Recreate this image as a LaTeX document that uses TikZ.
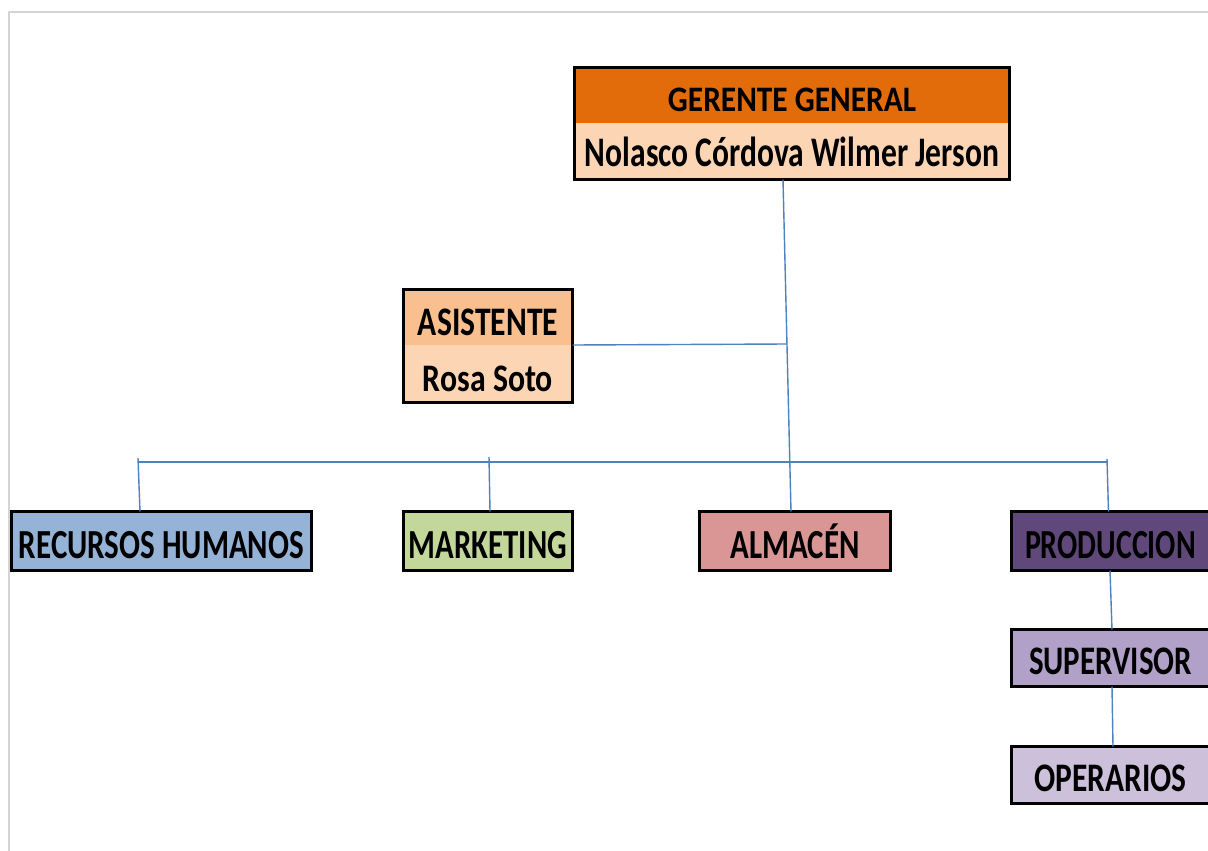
\documentclass[tikz,border=0pt]{standalone}
\usepackage{fontspec}
\setmainfont{Carlito}
\usepackage{graphicx}
\definecolor{gerTop}{HTML}{E26B0A}
\definecolor{peach}{HTML}{FCD5B4}
\definecolor{asiTop}{HTML}{FABF8F}
\definecolor{rrhhC}{HTML}{95B3D7}
\definecolor{mktC}{HTML}{C4D79B}
\definecolor{almC}{HTML}{DA9694}
\definecolor{prodC}{HTML}{60497A}
\definecolor{supC}{HTML}{B1A0C7}
\definecolor{opeC}{HTML}{CCC0DA}
\definecolor{connC}{HTML}{4F81BD}
\definecolor{frameC}{HTML}{D4D4D4}
% text fitted to width #2 and cap height #3, caps centred #1 pt below the node centre
\newcommand\fitT[4][4]{\raisebox{\dimexpr-#1pt-#3pt/2\relax}[0pt][0pt]{\resizebox{#2pt}{#3pt}{\vphantom{E}\smash{\bfseries #4}}}}
\tikzset{
  part/.style={rectangle, inner sep=0pt, outer sep=0pt, anchor=north west, text=black},
  boxnode/.style={part, draw=black, line width=3pt},
  frameline/.style={draw=black, line width=3pt},
  conn/.style={draw=connC, line width=1.4pt},
}
\begin{document}
\begin{tikzpicture}[x=1pt,y=-1pt]
\useasboundingbox[fill=white] (0,0) rectangle (1208,851);
\draw[frameC, line width=2pt] (9,851) -- (9,12) -- (1208,12);

% Gerente general
\node[part, fill=gerTop, minimum width=435pt, minimum height=55.5pt] (gt) at (574.5,67.5) {\fitT[5]{248}{23}{GERENTE GENERAL}};
\node[part, fill=peach, minimum width=435pt, minimum height=56.5pt] (gb) at (gt.south west) {\fitT[1.5]{414}{27}{Nolasco Córdova Wilmer Jerson}};
\draw[frameline] (gt.north west) rectangle (gb.south east);

% Asistente
\node[part, fill=asiTop, minimum width=169pt, minimum height=55.5pt] (at) at (403.5,289.5) {\fitT[5.5]{140}{26}{ASISTENTE}};
\node[part, fill=peach, minimum width=169pt, minimum height=57.5pt] (ab) at (at.south west) {\fitT[5.5]{130}{25}{Rosa Soto}};
\draw[frameline] (at.north west) rectangle (ab.south east);

% Departments
\node[boxnode, fill=rrhhC, minimum width=300pt, minimum height=59pt] (rrhh) at (11.5,511.5) {\fitT{285}{26.5}{RECURSOS HUMANOS}};
\node[boxnode, fill=mktC, minimum width=169pt, minimum height=59pt] (mkt) at (403.5,511.5) {\fitT{158}{26.5}{MARKETING}};
\node[boxnode, fill=almC, minimum width=191pt, minimum height=59pt] (alm) at (699.5,511.5) {\fitT{129}{26.5}{ALMACÉN}};
\node[boxnode, fill=prodC, minimum width=198pt, minimum height=59pt] (prod) at (1011.5,511.5) {\fitT{171}{26.5}{PRODUCCION}};
\node[boxnode, fill=supC, minimum width=198pt, minimum height=57pt] (sup) at (1011.5,629.5) {\fitT[3]{163}{26}{SUPERVISOR}};
\node[boxnode, fill=opeC, minimum width=198pt, minimum height=57pt] (ope) at (1011.5,746.5) {\fitT[3]{152}{26}{OPERARIOS}};

% Connectors
\coordinate (j1) at (787,344);
\coordinate (bl) at (138,462);
\coordinate (br) at (1107,462);
\coordinate (bm) at (489,457);
\coordinate (bp) at (1107,459);
\coordinate (bq) at (138,458);
\draw[conn] ([xshift=-9pt]gb.south) -- ([xshift=-4pt]alm.north);
\draw[conn] (at.south east) -- (j1);
\draw[conn] (bl) -- (br);
\draw[conn] (bq) -- ([xshift=-21.5pt]rrhh.north);
\draw[conn] (bm) -- ([xshift=2pt]mkt.north);
\draw[conn] (bp) -- ([xshift=-2pt]prod.north);
\draw[conn] ([xshift=-0.5pt]prod.south) -- ([xshift=1.5pt]sup.north);
\draw[conn] ([xshift=1.5pt]sup.south) -- ([xshift=2.5pt]ope.north);
\end{tikzpicture}
\end{document}
